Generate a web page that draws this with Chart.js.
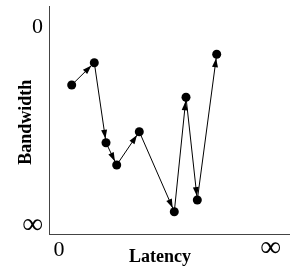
<!DOCTYPE html>
<html>
<head>
<meta charset="utf-8">
<script src="https://cdn.jsdelivr.net/npm/chart.js@4.4.1/dist/chart.umd.min.js"></script>
<style>
  html, body { margin: 0; padding: 0; background: #fff; }
  #wrap { width: 295px; height: 272px; }
</style>
</head>
<body>
<div id="wrap"><canvas id="c" width="295" height="272"></canvas></div>
<script>
// Data (arbitrary units)
const latency   = [22.7, 45.3, 57.0, 67.7, 90.3, 125.3, 137.0, 148.3, 167.7];
const bandwidth = [79.0, 56.7, 136.7, 159.0, 125.7, 205.7, 91.3, 194.0, 48.3];
const xTickValues = [10, 221.5];
const xTickLabels = ['0', '∞'];
const yTickValues = [21.5, 219.5];
const yTickLabels = ['0', '∞'];

const points = latency.map((x, i) => ({ x: x, y: bandwidth[i] }));

const serif = '"Liberation Serif", "Times New Roman", serif';

const arrowPlugin = {
  id: 'arrows',
  afterDatasetsDraw(chart) {
    const ctx = chart.ctx;
    const meta = chart.getDatasetMeta(0);
    const els = meta.data;
    ctx.save();
    ctx.fillStyle = '#000';
    for (let i = 1; i < els.length; i++) {
      const a = els[i - 1], b = els[i];
      const dx = b.x - a.x, dy = b.y - a.y;
      const len = Math.hypot(dx, dy);
      const ux = dx / len, uy = dy / len;
      const r = 4;
      const tipX = b.x - ux * r, tipY = b.y - uy * r;
      const L = 9, W = 3;
      const bx = tipX - ux * L, by = tipY - uy * L;
      ctx.beginPath();
      ctx.moveTo(tipX, tipY);
      ctx.lineTo(bx - uy * W, by + ux * W);
      ctx.lineTo(bx + uy * W, by - ux * W);
      ctx.closePath();
      ctx.fill();
    }
    ctx.restore();
  }
};

function xTickFont(ctx) {
  const lbl = ctx.tick && ctx.tick.label;
  if (lbl === '∞') return { family: serif, size: 29, lineHeight: '23px' };
  return { family: serif, size: 22 };
}
function yTickFont(ctx) {
  const lbl = ctx.tick && ctx.tick.label;
  if (lbl === '∞') return { family: serif, size: 29 };
  return { family: serif, size: 22 };
}
function noOverhang(scale) {
  scale.paddingTop = 0; scale.paddingBottom = 0;
  scale.paddingLeft = 0; scale.paddingRight = 0;
}

new Chart(document.getElementById('c'), {
  type: 'line',
  data: {
    datasets: [{
      data: points,
      borderColor: '#000',
      borderWidth: 1,
      pointRadius: 4.5,
      pointHoverRadius: 4.5,
      pointBackgroundColor: '#000',
      pointBorderColor: '#000',
      pointBorderWidth: 0,
      tension: 0,
      fill: false
    }]
  },
  options: {
    responsive: false,
    animation: false,
    events: [],
    layout: { padding: { left: 0, top: 6, right: 6, bottom: 0 } },
    plugins: { legend: { display: false }, tooltip: { enabled: false } },
    scales: {
      x: {
        type: 'linear',
        min: 0, max: 240,
        afterBuildTicks(scale) { scale.ticks = xTickValues.map(v => ({ value: v })); },
        afterFit(scale) { scale.height = 38; noOverhang(scale); },
        grid: { display: false, drawTicks: false },
        border: { display: true, color: '#444', width: 1 },
        ticks: {
          color: '#000',
          padding: 3,
          maxRotation: 0,
          autoSkip: false,
          font: xTickFont,
          callback: (v) => { const i = xTickValues.indexOf(v); return i >= 0 ? xTickLabels[i] : ''; }
        },
        title: {
          display: true, text: 'Latency\u00a0\u00a0\u00a0\u00a0', color: '#000',
          font: { family: serif, size: 18, weight: 'bold' },
          padding: { top: 0, bottom: 4 }
        }
      },
      y: {
        type: 'linear',
        reverse: true,
        min: 0, max: 228,
        afterBuildTicks(scale) { scale.ticks = yTickValues.map(v => ({ value: v })); },
        afterFit(scale) { scale.width = 49; noOverhang(scale); },
        grid: { display: false, drawTicks: false },
        border: { display: true, color: '#444', width: 1 },
        ticks: {
          color: '#000',
          padding: 6,
          autoSkip: false,
          font: yTickFont,
          callback: (v) => { const i = yTickValues.indexOf(v); return i >= 0 ? yTickLabels[i] : ''; }
        },
        title: {
          display: true, text: 'Bandwidth\u00a0', color: '#000',
          font: { family: serif, size: 18, weight: 'bold' },
          padding: { top: 16, bottom: 0 }
        }
      }
    }
  },
  plugins: [arrowPlugin]
});
</script>
</body>
</html>
